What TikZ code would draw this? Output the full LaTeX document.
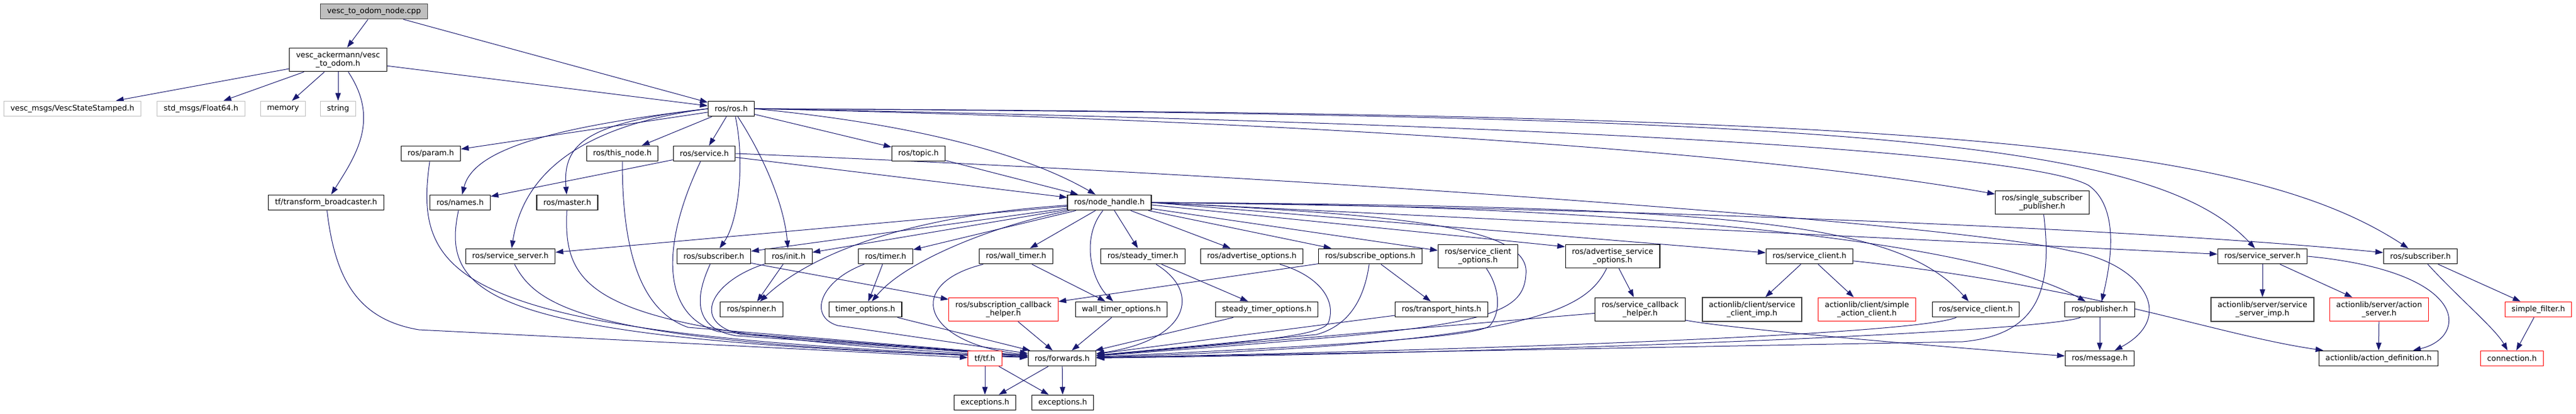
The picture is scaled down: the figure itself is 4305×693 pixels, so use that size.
\documentclass[tikz,border=0pt]{standalone}
\usepackage{fontspec}
\setmainfont{DejaVu Sans}
\usetikzlibrary{arrows.meta,backgrounds}
\definecolor{edgeBlue}{HTML}{191970}
\definecolor{sysGray}{HTML}{BFBFBF}
\definecolor{darkGray}{HTML}{404040}
\tikzset{
    header/.style={draw=black, line width=1.1pt, rectangle, fill=white, font=\fontsize{12.8}{14}\selectfont, inner xsep=11pt, inner ysep=6.5pt, minimum height=25.5pt, align=center},
    mainFile/.style={header, draw=darkGray, fill=sysGray},
    sysHeader/.style={header, draw=sysGray},
    undocHeader/.style={header, draw=darkGray, line width=1.5pt},
    truncHeader/.style={header, draw=red},
    incArrow/.style={draw=edgeBlue, line width=1pt, -{Triangle[length=13pt, width=9pt]}},
}
\begin{document}
\begin{tikzpicture}[x=1pt, y=-1pt]
\useasboundingbox (0,0) rectangle (4305,693);

\node[mainFile] (cpp) at (625,19) {vesc\_to\_odom\_node.cpp};
\node[header] (vto) at (565,100) {vesc\_ackermann/vesc\\\_to\_odom.h};
\node[sysHeader] (vss) at (121,182) {vesc\_msgs/VescStateStamped.h};
\node[sysHeader] (f64) at (336,182) {std\_msgs/Float64.h};
\node[sysHeader] (mem) at (473,182) {memory};
\node[sysHeader] (str) at (565,182) {string};
\node[header] (ros) at (1222,182) {ros/ros.h};

\node[header] (param) at (720,257) {ros/param.h};
\node[header] (thisnode) at (1040,257) {ros/this\_node.h};
\node[header] (service) at (1177,257) {ros/service.h};
\node[header] (topic) at (1535,257) {ros/topic.h};

\node[header] (names) at (769,339) {ros/names.h};
\node[header] (master) at (948,339) {ros/master.h};
\node[header] (tfb) at (545,339) {tf/transform\_broadcaster.h};
\node[header] (nh) at (1854,339) {ros/node\_handle.h};
\node[header] (ssp) at (3413,339) {ros/single\_subscriber\\\_publisher.h};

\node[header] (srvL) at (853,429) {ros/service\_server.h};
\node[header] (subL) at (1193,429) {ros/subscriber.h};
\node[header] (init) at (1318,429) {ros/init.h};
\node[header] (timer) at (1480,429) {ros/timer.h};
\node[header] (wtimer) at (1698,429) {ros/wall\_timer.h};
\node[header] (stimer) at (1910,429) {ros/steady\_timer.h};
\node[header] (advopt) at (2092,429) {ros/advertise\_options.h};
\node[header] (subopt) at (2290,429) {ros/subscribe\_options.h};
\node[header] (sco) at (2470,429) {ros/service\_client\\\_options.h};
\node[header] (aso) at (2695,429) {ros/advertise\_service\\\_options.h};
\node[header] (sclU) at (3024,429) {ros/service\_client.h};
\node[header] (srvR) at (3781,429) {ros/service\_server.h};
\node[header] (subR) at (4045,429) {ros/subscriber.h};

\node[header] (spinner) at (1256,518) {ros/spinner.h};
\node[header] (topt) at (1446,518) {timer\_options.h};
\node[truncHeader] (sch) at (1677,518) {ros/subscription\_callback\\\_helper.h};
\node[header] (wtopt) at (1874,518) {wall\_timer\_options.h};
\node[header] (stopt) at (2117,518) {steady\_timer\_options.h};
\node[header] (th) at (2409,518) {ros/transport\_hints.h};
\node[header] (sccb) at (2741,518) {ros/service\_callback\\\_helper.h};
\node[undocHeader] (scimp) at (2928,518) {actionlib/client/service\\\_client\_imp.h};
\node[truncHeader] (sac) at (3120,518) {actionlib/client/simple\\\_action\_client.h};
\node[header] (sclL) at (3302,518) {ros/service\_client.h};
\node[header] (pub) at (3509,518) {ros/publisher.h};
\node[undocHeader] (ssimp) at (3781,518) {actionlib/server/service\\\_server\_imp.h};
\node[truncHeader] (asrv) at (3976,518) {actionlib/server/action\\\_server.h};
\node[truncHeader] (sfilt) at (4242,518) {simple\_filter.h};

\node[truncHeader] (tftf) at (1646,600) {tf/tf.h};
\node[header] (fwd) at (1775,600) {ros/forwards.h};
\node[header] (msg) at (3509,600) {ros/message.h};
\node[header] (adef) at (3975,600) {actionlib/action\_definition.h};
\node[truncHeader] (conn) at (4198,600) {connection.h};
\node[header] (exc1) at (1646,674) {exceptions.h};
\node[header] (exc2) at (1776,674) {exceptions.h};

\begin{scope}[on background layer]
\draw[incArrow] (cpp) -- (vto);
\draw[incArrow] (cpp) -- (ros);
\draw[incArrow] (vto) -- (vss);
\draw[incArrow] (vto) -- (f64);
\draw[incArrow] (vto) -- (mem);
\draw[incArrow] (vto) -- (str);
\draw[incArrow] ([xshift=17pt]vto.south) .. controls (635,200) and (595,260) .. (tfb);
\draw[incArrow] (vto) -- (ros);
\draw[incArrow] (tfb) .. controls (560,470) and (600,535) .. (700,552) -- (tftf);

% ros/ros.h
\draw[incArrow] (ros) -- (param);
\draw[incArrow] (ros.west) .. controls (900,215) and (790,255) .. (names);
\draw[incArrow] (ros.west) .. controls (930,215) and (870,320) .. (srvL);
\draw[incArrow] (ros.west) .. controls (980,205) and (940,240) .. (master);
\draw[incArrow] (ros) -- (thisnode);
\draw[incArrow] (ros) -- (service);
\draw[incArrow] ([xshift=7pt]ros.south) .. controls (1245,270) and (1235,370) .. (subL);
\draw[incArrow] ([xshift=11pt]ros.south) .. controls (1275,260) and (1310,340) .. (init);
\draw[incArrow] (ros) -- (topic);
\draw[incArrow] (ros.east) .. controls (1500,205) and (1700,250) .. (nh);
\draw[incArrow] (ros.east) .. controls (2300,205) and (3000,265) .. (ssp);
\draw[incArrow] (ros.east) .. controls (2500,205) and (3380,250) .. (3490,310) .. controls (3540,345) and (3530,430) .. (pub);
\draw[incArrow] (ros.east) .. controls (3100,192) and (3600,235) .. (srvR);
\draw[incArrow] (ros.east) .. controls (3200,190) and (3750,235) .. (subR);

% ros/service.h
\draw[incArrow] (service) -- (names);
\draw[incArrow] (service) -- (nh);
\draw[incArrow] (service) .. controls (1100,420) and (1110,530) .. (1200,555) -- (fwd);
\draw[incArrow] (service.east) .. controls (2300,300) and (3300,380) .. (3460,420) .. controls (3580,440) and (3640,530) .. (msg);
\draw[incArrow] (topic) -- (nh);

% into ros/forwards.h
\draw[incArrow] (param) .. controls (690,470) and (760,560) .. (fwd);
\draw[incArrow] (names) .. controls (735,500) and (820,570) .. (fwd);
\draw[incArrow] (master) .. controls (940,500) and (1000,560) .. (fwd);
\draw[incArrow] (thisnode) .. controls (1040,420) and (1070,520) .. (1150,548) -- (fwd);
\draw[incArrow] (srvL) .. controls (900,520) and (1000,575) .. (fwd);
\draw[incArrow] (subL) .. controls (1160,500) and (1160,550) .. (1230,562) -- (fwd);
\draw[incArrow] (init) .. controls (1190,470) and (1150,540) .. (1240,560) -- (fwd);
\draw[incArrow] (timer) .. controls (1370,470) and (1350,530) .. (1400,545) -- (fwd);
\draw[incArrow] (topt) -- (fwd);
\draw[incArrow] (wtimer) .. controls (1510,475) and (1540,575) .. (fwd);
\draw[incArrow] (sch) -- (fwd);
\draw[incArrow] (wtopt) -- (fwd);
\draw[incArrow] (stimer) .. controls (2010,490) and (1985,570) .. (fwd);
\draw[incArrow] (stopt) -- (fwd);
\draw[incArrow] (advopt) .. controls (2200,460) and (2235,500) .. (2220,540) .. controls (2210,565) and (2050,575) .. (fwd);
\draw[incArrow] (subopt) .. controls (2280,500) and (2255,545) .. (2200,560) -- (fwd);
\draw[incArrow] (th) -- (fwd);
\draw[incArrow] (sco) .. controls (2505,480) and (2510,520) .. (2490,545) .. controls (2470,565) and (2200,580) .. (fwd);
\draw[incArrow] (aso) .. controls (2650,520) and (2560,575) .. (fwd);
\draw[incArrow] (sccb) -- (fwd);
\draw[incArrow] (sclL) .. controls (3200,560) and (2500,585) .. (fwd);
\draw[incArrow] (pub) .. controls (3420,555) and (2600,590) .. (fwd);
\draw[incArrow] (ssp) .. controls (3430,480) and (3410,560) .. (3280,572) -- (fwd);

% ros/node_handle.h
\draw[incArrow] (nh) -- (srvL);
\draw[incArrow] (nh) -- (subL);
\draw[incArrow] (nh) -- (init);
\draw[incArrow] (nh) .. controls (1530,360) and (1360,420) .. (spinner);
\draw[incArrow] (nh) -- (timer);
\draw[incArrow] (nh) .. controls (1650,380) and (1510,440) .. (topt);
\draw[incArrow] (nh) -- (wtimer);
\draw[incArrow] (nh) .. controls (1805,400) and (1825,470) .. (wtopt);
\draw[incArrow] (nh) -- (stimer);
\draw[incArrow] (nh) -- (advopt);
\draw[incArrow] (nh) -- (subopt);
\draw[incArrow] (nh) -- (sco);
\draw[incArrow] ([yshift=-4pt]nh.east) -- ([yshift=16pt]aso.west);
\draw[incArrow] (nh.east) -- (sclU);
\draw[incArrow] (nh.east) .. controls (2900,345) and (3170,370) .. (sclL);
\draw[incArrow] (nh.east) .. controls (2700,342) and (3300,400) .. (pub);
\draw[incArrow] (nh.east) -- (srvR);
\draw[incArrow] (nh.east) .. controls (2800,350) and (3600,385) .. (subR);
\draw[incArrow] (nh.east) .. controls (2350,360) and (2560,380) .. (2550,460) .. controls (2545,540) and (2450,550) .. (fwd);

% second level
\draw[incArrow] (subL) -- (sch);
\draw[incArrow] (subopt) -- (sch);
\draw[incArrow] (init) -- (spinner);
\draw[incArrow] (timer) -- (topt);
\draw[incArrow] (wtimer) -- (wtopt);
\draw[incArrow] (stimer) -- (stopt);
\draw[incArrow] (subopt) -- (th);
\draw[incArrow] (aso) -- (sccb);
\draw[incArrow] ([yshift=-18pt]sccb.east) .. controls (2900,552) and (3300,585) .. (msg);
\draw[incArrow] (sclU) -- (scimp);
\draw[incArrow] (sclU) -- (sac);
\draw[incArrow] (sclU) .. controls (3500,480) and (3700,560) .. (adef);
\draw[incArrow] (pub) -- (msg);
\draw[incArrow] (srvR) -- (ssimp);
\draw[incArrow] (srvR) -- (asrv);
\draw[incArrow] (srvR.east) .. controls (4130,455) and (4125,565) .. (adef);
\draw[incArrow] (asrv) -- (adef);
\draw[incArrow] (subR) .. controls (4110,500) and (4170,550) .. (conn);
\draw[incArrow] (subR) -- (sfilt);
\draw[incArrow] (sfilt) -- (conn);
\draw[incArrow] (tftf) -- (exc1);
\draw[incArrow] (tftf) -- (exc2);
\draw[incArrow] (fwd) -- (exc1);
\draw[incArrow] (fwd) -- (exc2);
\end{scope}
\end{tikzpicture}
\end{document}
